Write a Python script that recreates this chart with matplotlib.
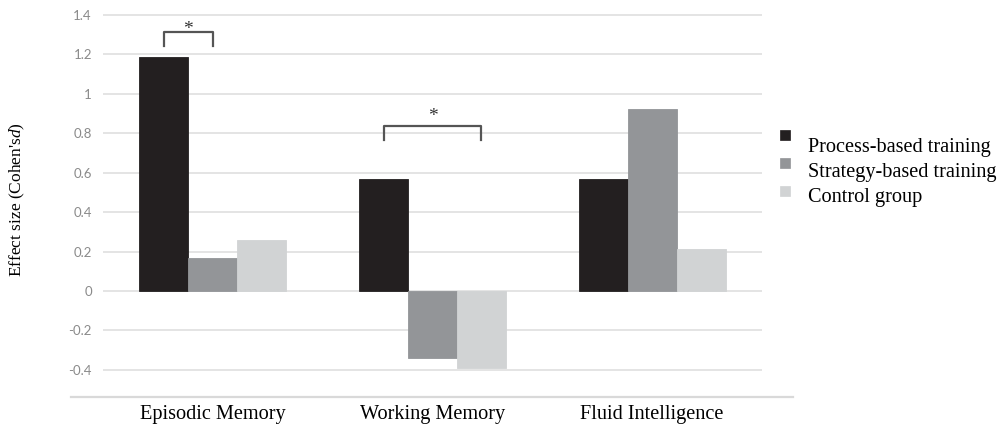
"""Effect sizes per training group, grouped bar chart."""

import matplotlib

matplotlib.use("Agg")
import matplotlib.pyplot as plt
import numpy as np
from matplotlib.patches import Rectangle


categorias = ["Episodic Memory", "Working Memory", "Fluid Intelligence"]
grupos = ["Process-based training", "Strategy-based training", "Control group"]
proceso = [1.185, 0.57, 0.57]
estrategia = [0.166, -0.338, 0.922]
control = [0.259, -0.392, 0.212]
ticks_y = [-0.4, -0.2, 0, 0.2, 0.4, 0.6, 0.8, 1, 1.2, 1.4]
etiquetas_y = ["-0.4", "-0.2", "0", "0.2", "0.4", "0.6", "0.8", "1", "1.2", "1.4"]

# significance brackets: (category, first bar, last bar, height, star baseline, label)
brackets = [(0, 0, 1, 1.315, 1.305, "*"), (1, 0, 2, 0.837, 0.864, "*")]

colores = ["#231f20", "#939598", "#d1d3d4"]

plt.rcParams["mathtext.fontset"] = "custom"
plt.rcParams["mathtext.it"] = "Liberation Serif:italic"
plt.rcParams["mathtext.rm"] = "Liberation Serif"

fig = plt.figure(figsize=(10.03, 4.25), dpi=100)
W, H = 1003, 425
izq, der, arriba, abajo = 103, 762, 5, 397
ax = fig.add_axes([izq / W, 1 - abajo / H, (der - izq) / W, (abajo - arriba) / H])

ymin, ymax = -0.538, 1.451
ax.set_xlim(-0.5, 2.5)
ax.set_ylim(ymin, ymax)

ancho = 0.223
x = np.arange(len(categorias))
series = [proceso, estrategia, control]
for i, valores in enumerate(series):
    ax.bar(x + (i - 1) * ancho, valores, width=ancho, color=colores[i],
           edgecolor=colores[i], linewidth=0.6, zorder=3)

for t in ticks_y:
    ax.axhline(t, color="#e4e4e4", linewidth=1.4, zorder=1)

# bottom axis line is wider than the plot area
ax.plot([-0.647, 2.642], [ymin, ymin], color="#d9d9d9", linewidth=1.6,
        clip_on=False, zorder=2)

for s in ax.spines.values():
    s.set_visible(False)

ax.set_yticks(ticks_y)
ax.set_yticklabels(etiquetas_y, fontsize=9.5, color="#8a8a8a", family="Lato")
ax.tick_params(axis="y", length=0, pad=8)
ax.set_xticks([])

for i, nombre in enumerate(categorias):
    ax.text(x[i], -0.625, nombre, ha="center", va="center", fontsize=14.6,
            family="Liberation Serif", clip_on=False)

fig.text(17 / W, 1 - 200 / H, "Effect size (Cohen's$\\mathit{d}$)", rotation=90,
         ha="center", va="center", fontsize=12.5, family="Liberation Serif")

alto_pata = 0.07
for cat, b0, b1, h, y_est, etiqueta in brackets:
    x0 = x[cat] + (b0 - 1) * ancho
    x1 = x[cat] + (b1 - 1) * ancho
    ax.plot([x0, x0, x1, x1], [h - alto_pata, h, h, h - alto_pata],
            color="#555555", linewidth=1.6, solid_joinstyle="round", zorder=4)
    ax.text((x0 + x1) / 2, y_est, etiqueta, ha="center", va="baseline",
            fontsize=14, family="Liberation Serif", color="#333333")

# legend drawn by hand: squares sit a little above their labels
for i, (nombre, c) in enumerate(zip(grupos, colores)):
    y_txt = 148 + 25 * i
    y_cuad = 135 + 28 * i
    fig.patches.append(Rectangle((780 / W, 1 - (y_cuad + 5) / H), 10 / W, 10 / H,
                                 transform=fig.transFigure, facecolor=c,
                                 edgecolor=c, linewidth=0.5))
    fig.text(808 / W, 1 - y_txt / H, nombre, ha="left", va="center",
             fontsize=14.6, family="Liberation Serif")

fig.savefig("out.png", dpi=100)
